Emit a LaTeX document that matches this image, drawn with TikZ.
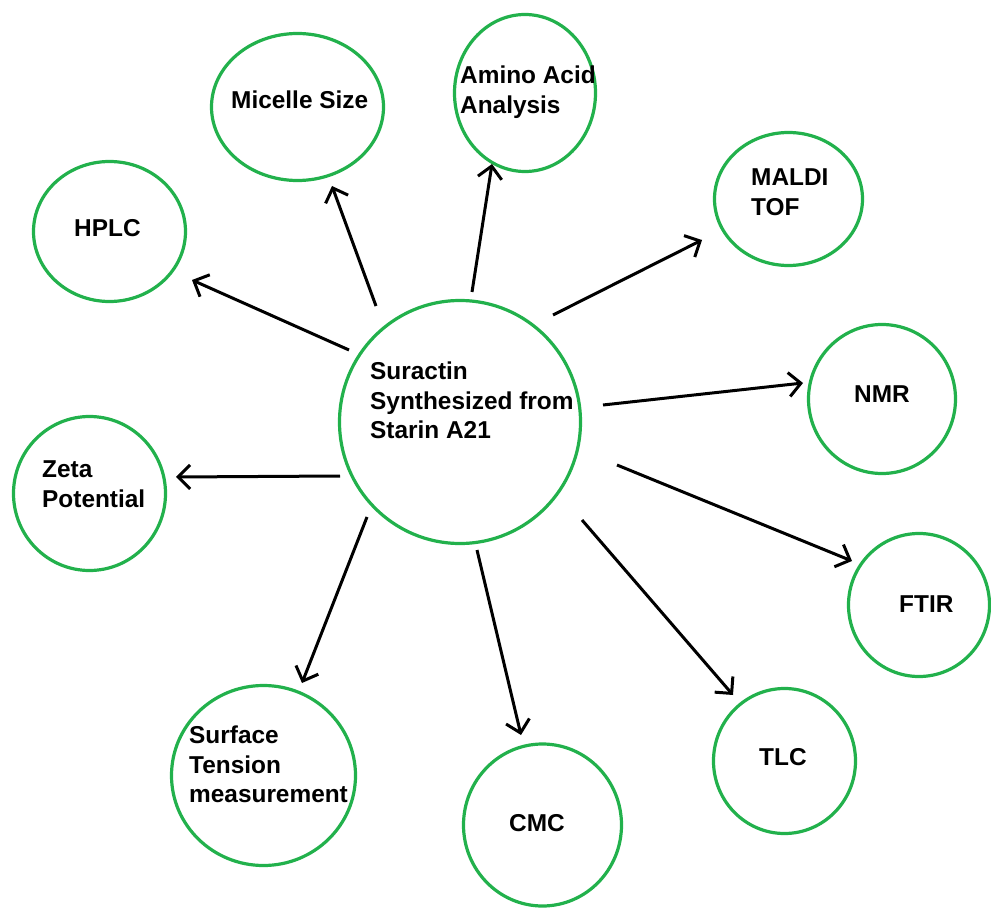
\documentclass[tikz,border=0pt]{standalone}
\usepackage{fontspec}
\setmainfont{Liberation Sans}
\usetikzlibrary{arrows.meta,shapes.geometric}
\definecolor{ringgreen}{RGB}{34,177,76}
\begin{document}
\begin{tikzpicture}[x=1pt,y=-1pt,
  ring/.style={draw=ringgreen, line width=3.2pt, ellipse, inner sep=0pt},
  caption/.style={font=\bfseries\fontsize{24.4}{29.5}\selectfont, align=left,
    inner sep=0pt, anchor=north west},
  link/.style={line width=3pt, -{Straight Barb[length=12pt,width=24pt]}}]
\useasboundingbox (0,0) rectangle (991,909);

% outlines of the methods
\node[ring, minimum width=241pt, minimum height=243pt] (c)    at (460,422) {};
\node[ring, minimum width=152pt, minimum height=140pt] (hplc) at (109.5,231.5) {};
\node[ring, minimum width=172pt, minimum height=147pt] (mic)  at (297.5,107) {};
\node[ring, minimum width=141pt, minimum height=157pt] (amino) at (525,93) {};
\node[ring, minimum width=148pt, minimum height=133pt] (maldi) at (788.5,199) {};
\node[ring, minimum width=147pt, minimum height=149pt] (nmr)  at (882,399) {};
\node[ring, minimum width=152pt, minimum height=154pt] (zeta) at (89.5,493.5) {};
\node[ring, minimum width=141pt, minimum height=143pt] (ftir) at (919,605) {};
\node[ring, minimum width=142pt, minimum height=145pt] (tlc)  at (784.5,761) {};
\node[ring, minimum width=158pt, minimum height=162pt] (cmc)  at (542.5,825) {};
\node[ring, minimum width=184pt, minimum height=180pt] (surf) at (263.5,775.5) {};

% captions
\node[caption] (c-t)     at (370,362) {Suractin\\Synthesized from\\Starin A21};
\node[caption] (hplc-t)  at (74,219)  {HPLC};
\node[caption] (mic-t)   at (231,91)  {Micelle Size};
\node[caption] (amino-t) at (460,66)  {Amino Acid\\Analysis};
\node[caption] (maldi-t) at (751,169) {MALDI\\TOF};
\node[caption] (nmr-t)   at (854,386) {NMR};
\node[caption] (zeta-t)  at (42,461)  {Zeta\\Potential};
\node[caption] (ftir-t)  at (899,596) {FTIR};
\node[caption] (tlc-t)   at (759,748) {TLC};
\node[caption] (cmc-t)   at (509,814) {CMC};
\node[caption] (surf-t)  at (189,726) {Surface\\Tension\\measurement};

% arrow ends, set apart from the outlines
\coordinate (hplc-a)  at (349,350); \coordinate (hplc-b)  at (192,280);
\coordinate (mic-a)   at (376,306); \coordinate (mic-b)   at (332,186);
\coordinate (amino-a) at (472,292); \coordinate (amino-b) at (492,164);
\coordinate (maldi-a) at (553,315); \coordinate (maldi-b) at (702,240);
\coordinate (nmr-a)   at (603,405); \coordinate (nmr-b)   at (803,383);
\coordinate (zeta-a)  at (340,476); \coordinate (zeta-b)  at (176,477);
\coordinate (ftir-a)  at (617,465); \coordinate (ftir-b)  at (852,561);
\coordinate (tlc-a)   at (582,520); \coordinate (tlc-b)   at (733,695);
\coordinate (cmc-a)   at (477,550); \coordinate (cmc-b)   at (521,735);
\coordinate (surf-a)  at (367,517); \coordinate (surf-b)  at (302,683);

\foreach \k in {hplc,mic,amino,maldi,nmr,zeta,ftir,tlc,cmc,surf}
  \draw[link] (\k-a) -- (\k-b);
\end{tikzpicture}
\end{document}
